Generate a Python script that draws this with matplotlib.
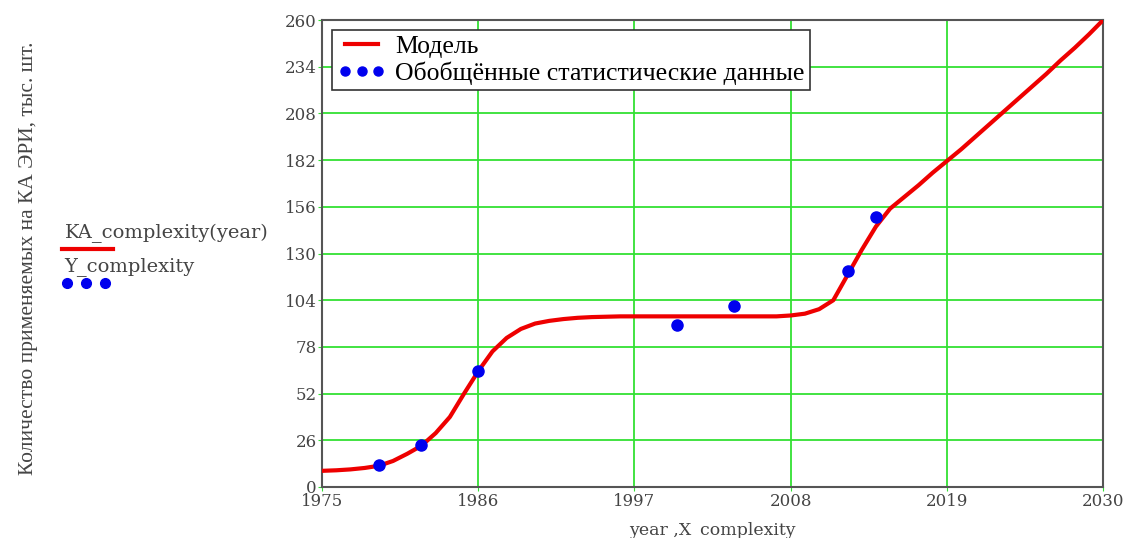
#!/usr/bin/env python3
"""
Model of EEE component count on spacecraft vs. generalized statistics
"""

import matplotlib
matplotlib.use("Agg")
import matplotlib.pyplot as plt
from matplotlib.lines import Line2D

plt.rcParams['font.family'] = ['Liberation Serif', 'DejaVu Serif']

# Model curve KA_complexity(year), thousands of pieces
model_years = list(range(1975, 2031))
model_values = [
    9.0, 9.3, 9.8, 10.6, 11.8, 14.5, 18.5, 23.0, 30.0, 39.0,      # 1975-1984
    52.0, 64.5, 75.5, 83.0, 88.0, 91.0, 92.5, 93.5, 94.2, 94.6,   # 1985-1994
    94.8, 95.0, 95.0, 95.0, 95.0, 95.0, 95.0, 95.0, 95.0, 95.0,   # 1995-2004
    95.0, 95.0, 95.0, 95.5, 96.5, 99.0, 104.0, 118.0, 132.0, 145.0,  # 2005-2014
    155.0, 161.5, 168.0, 175.0, 181.5, 188.0, 195.0, 202.0, 209.0, 216.0,  # 2015-2024
    223.0, 230.0, 237.5, 244.5, 252.0, 260.0,                     # 2025-2030
]

# Generalized statistics Y_complexity
stat_years = [1979, 1982, 1986, 2000, 2004, 2012, 2014]
stat_values = [12, 23.5, 64.5, 90.3, 100.5, 120.5, 150.5]

x_ticks = [1975, 1986, 1997, 2008, 2019, 2030]
y_ticks = list(range(0, 261, 26))

red = '#ee0000'
blue = '#0000ee'
grid_green = '#33e033'
text_grey = '#444444'
wide_font = 'DejaVu Serif'

fig = plt.figure(figsize=(11.34, 5.38), dpi=100)
ax = fig.add_axes([0.284, 0.0948, 0.6888, 0.868])

ax.plot(model_years, model_values, color=red, lw=3, label='Модель', zorder=3)
ax.plot(stat_years, stat_values, linestyle='none', marker='o', markersize=8,
        color=blue, label='Обобщённые статистические данные', zorder=4)

ax.set_xlim(1975, 2030)
ax.set_ylim(0, 260)
ax.set_xticks(x_ticks)
ax.set_yticks(y_ticks)
ax.grid(True, color=grid_green, lw=1.3)
ax.set_axisbelow(True)

for side in ax.spines.values():
    side.set_color('#555555')
    side.set_linewidth(1.5)

ax.tick_params(axis='both', labelsize=12, labelcolor=text_grey,
               color=grid_green, length=3, pad=1)
for lbl in ax.get_xticklabels() + ax.get_yticklabels():
    lbl.set_family(wide_font)

ax.set_xlabel('year ,X_complexity', fontsize=12.5, color=text_grey,
              family=wide_font, labelpad=9)

leg = ax.legend(loc='upper left', bbox_to_anchor=(0.013, 0.978), numpoints=3,
                fontsize=18.5, handlelength=1.9, handletextpad=0.35,
                borderpad=0.2, labelspacing=0.12, fancybox=False,
                framealpha=1, borderaxespad=0)
leg.get_frame().set_edgecolor('#333333')
leg.get_frame().set_linewidth(1.2)
leg.legend_handles[1].set_markersize(6.5)

# Y axis caption on the far left
fig.text(0.025, 0.52, 'Количество применяемых на КА ЭРИ, тыс. шт.',
         rotation=90, ha='center', va='center', fontsize=15.5, color=text_grey)

# Trace names as listed by the worksheet
fig.text(0.057, 1 - 233 / 538, 'KA_complexity(year)', fontsize=14,
         color=text_grey, family=wide_font, ha='left', va='center')
fig.add_artist(Line2D([0.055, 0.1], [1 - 249 / 538] * 2, color=red, lw=3,
                      transform=fig.transFigure))
fig.text(0.057, 1 - 267 / 538, 'Y_complexity', fontsize=14,
         color=text_grey, family=wide_font, ha='left', va='center')
fig.add_artist(Line2D([0.059, 0.076, 0.093], [1 - 283 / 538] * 3,
                      linestyle='none', marker='o', markersize=7, color=blue,
                      transform=fig.transFigure))

plt.savefig('out.png', dpi=100)
